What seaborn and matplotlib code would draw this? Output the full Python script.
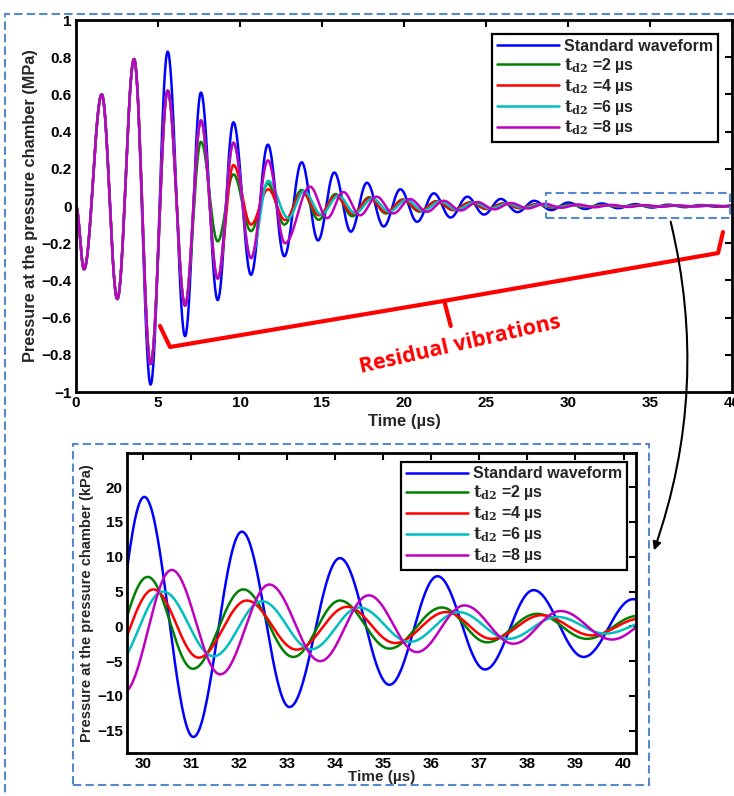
import numpy as np
import pandas as pd
import matplotlib
matplotlib.use("Agg")
import matplotlib.pyplot as plt
import seaborn as sns
from matplotlib.patches import Rectangle, FancyArrowPatch
from matplotlib.lines import Line2D
from matplotlib.ticker import FuncFormatter

# ---------------- data (extrema, time in µs, pressure in MPa) -------------
SERIES = ["std", "td2_2", "td2_4", "td2_6", "td2_8"]
LABELS = ["Standard waveform",
          r"$\mathbf{t}_{\mathbf{d2}}$ =2 µs",
          r"$\mathbf{t}_{\mathbf{d2}}$ =4 µs",
          r"$\mathbf{t}_{\mathbf{d2}}$ =6 µs",
          r"$\mathbf{t}_{\mathbf{d2}}$ =8 µs"]
COLORS = ["#0000ff", "#008000", "#ff0000", "#00bfbf", "#bf00bf"]

STD_T = [0.0, 0.49, 1.57, 2.52, 3.54, 4.55, 5.59, 6.65, 7.62, 8.64, 9.60, 10.67, 11.70, 12.70,
         13.76, 14.76, 15.75, 16.76, 17.74, 18.76, 19.78, 20.80, 21.82, 22.84, 23.86, 24.88,
         25.90, 26.92, 27.94, 28.97, 30.03, 31.05, 32.06, 33.05, 34.10, 35.13, 36.13, 37.12,
         38.13, 39.17, 40.20, 41.20]
STD_V = [0.0, -0.34, 0.60, -0.50, 0.79, -0.96, 0.83, -0.70, 0.61, -0.506, 0.45, -0.37, 0.33, -0.27,
         0.235, -0.185, 0.18, -0.138, 0.125, -0.11, 0.09, -0.085, 0.068, -0.062, 0.05, -0.046,
         0.038, -0.033, 0.028, -0.022, 0.0186, -0.0159, 0.0136, -0.0116, 0.0098, -0.0084, 0.0072,
         -0.0062, 0.0052, -0.0044, 0.0039, -0.0033]

TD2_2_T = [0.0, 0.49, 1.57, 2.52, 3.54, 4.55, 5.59, 6.65, 7.62, 8.64, 9.60, 10.67, 11.70, 12.70,
           13.76, 14.80, 15.82, 16.85, 17.87, 18.90, 19.92, 20.95, 21.97, 23.00, 24.02, 25.03,
           26.05, 27.05, 28.07, 29.05, 30.10, 31.04, 32.09, 33.13, 34.10, 35.13, 36.22, 37.16,
           38.20, 39.24, 40.30, 41.30]
TD2_2_V = [0.0, -0.34, 0.60, -0.50, 0.79, -0.85, 0.62, -0.535, 0.345, -0.19, 0.17, -0.135, 0.12, -0.10,
           0.086, -0.074, 0.064, -0.055, 0.047, -0.040, 0.035, -0.030, 0.026, -0.022, 0.019, -0.016,
           0.014, -0.012, 0.0103, -0.0088, 0.0071, -0.0061, 0.0053, -0.0044, 0.0037, -0.0032, 0.0027,
           -0.0023, 0.0018, -0.0018, 0.0015, -0.0012]

TD2_4_T = [0.0, 0.49, 1.57, 2.52, 3.54, 4.55, 5.59, 6.65, 7.62, 8.64, 9.60, 10.67, 11.72, 12.75,
           13.80, 14.82, 15.85, 16.87, 17.90, 18.92, 19.95, 20.97, 22.00, 23.02, 24.05, 25.07,
           26.10, 27.12, 28.15, 29.15, 30.22, 31.16, 32.16, 33.20, 34.25, 35.25, 36.31, 37.26,
           38.30, 39.34, 40.35, 41.35]
TD2_4_V = [0.0, -0.34, 0.60, -0.50, 0.79, -0.85, 0.62, -0.535, 0.46, -0.39, 0.22, -0.10, 0.09, -0.075,
           0.075, -0.05, 0.055, -0.042, 0.042, -0.034, 0.033, -0.027, 0.025, -0.021, 0.019, -0.016,
           0.0135, -0.011, 0.0095, -0.0075, 0.0053, -0.0045, 0.0037, -0.00335, 0.0028, -0.0024,
           0.00205, -0.0018, 0.0016, -0.0013, 0.0011, -0.0009]

TD2_6_T = [0.0, 0.49, 1.57, 2.52, 3.54, 4.55, 5.59, 6.65, 7.62, 8.64, 9.60, 10.67, 11.72, 12.95,
           13.90, 14.95, 16.00, 17.02, 18.08, 19.10, 20.15, 21.15, 22.20, 23.22, 24.25, 25.27,
           26.30, 27.32, 28.35, 29.40, 30.42, 31.47, 32.48, 33.50, 34.50, 35.55, 36.57, 37.60,
           38.62, 39.62, 40.65]
TD2_6_V = [0.0, -0.34, 0.60, -0.50, 0.79, -0.85, 0.62, -0.535, 0.46, -0.39, 0.34, -0.28, 0.135, -0.065,
           0.08, -0.045, 0.055, -0.038, 0.04, -0.03, 0.032, -0.025, 0.024, -0.019, 0.018, -0.014,
           0.013, -0.010, 0.0085, -0.0058, 0.0050, -0.0043, 0.0036, -0.0033, 0.0027, -0.00225,
           0.00205, -0.0018, 0.00135, -0.00105, 0.0009]

TD2_8_T = [0.0, 0.49, 1.57, 2.52, 3.54, 4.55, 5.59, 6.65, 7.62, 8.64, 9.60, 10.67, 11.70, 12.74,
           14.27, 15.32, 16.30, 17.32, 18.33, 19.35, 20.37, 21.40, 22.42, 23.45, 24.47, 25.50,
           26.52, 27.55, 28.57, 29.60, 30.60, 31.61, 32.63, 33.69, 34.70, 35.70, 36.69, 37.71,
           38.69, 39.76, 40.75]
TD2_8_V = [0.0, -0.34, 0.60, -0.50, 0.79, -0.85, 0.62, -0.535, 0.46, -0.39, 0.34, -0.28, 0.245, -0.20,
           0.104, -0.065, 0.075, -0.05, 0.05, -0.04, 0.037, -0.031, 0.028, -0.024, 0.021, -0.018,
           0.016, -0.013, 0.0115, -0.0095, 0.0081, -0.0069, 0.0060, -0.0050, 0.00445, -0.0037,
           0.0030, -0.0025, 0.0022, -0.0019, 0.0016]

EXTREMA = {"std": (STD_T, STD_V), "td2_2": (TD2_2_T, TD2_2_V), "td2_4": (TD2_4_T, TD2_4_V),
           "td2_6": (TD2_6_T, TD2_6_V), "td2_8": (TD2_8_T, TD2_8_V)}

TOP_XTICKS = list(range(0, 41, 5))
TOP_YTICKS = [-1, -0.8, -0.6, -0.4, -0.2, 0, 0.2, 0.4, 0.6, 0.8, 1]
BOT_XTICKS = list(range(30, 41))
BOT_YTICKS = [-15, -10, -5, 0, 5, 10, 15, 20]


def smooth_trace(t_ext, v_ext, n=40):
    """Render a wave passing through the read extrema with half-cosine strokes."""
    ts, vs = [], []
    for i in range(len(t_ext) - 1):
        s = np.linspace(0, 1, n, endpoint=False)
        ts.append(t_ext[i] + (t_ext[i + 1] - t_ext[i]) * s)
        vs.append(v_ext[i] + (v_ext[i + 1] - v_ext[i]) * (1 - np.cos(np.pi * s)) / 2)
    ts.append([t_ext[-1]])
    vs.append([v_ext[-1]])
    return np.concatenate(ts), np.concatenate(vs)


frames = []
for key in SERIES:
    t, v = smooth_trace(*EXTREMA[key])
    frames.append(pd.DataFrame({"time": t, "pressure": v, "series": key}))
df = pd.concat(frames, ignore_index=True)

# ---------------- style ----------------
sns.set_style("white")
plt.rcParams["font.family"] = ["Liberation Sans", "DejaVu Sans"]
plt.rcParams["font.weight"] = "bold"
plt.rcParams["axes.labelweight"] = "bold"
plt.rcParams["mathtext.fontset"] = "dejavuserif"

W, H = 734, 796
fig = plt.figure(figsize=(W / 100, H / 100), dpi=100)


def fig_box(x0, y0, x1, y1):
    return [x0 / W, 1 - y1 / H, (x1 - x0) / W, (y1 - y0) / H]


def px(x, y):
    return (x / W, 1 - y / H)


ax1 = fig.add_axes(fig_box(76, 20, 732, 392))
ax2 = fig.add_axes(fig_box(127, 453, 636, 753))

palette = dict(zip(SERIES, COLORS))

sns.lineplot(data=df, x="time", y="pressure", hue="series", hue_order=SERIES, palette=palette,
             estimator=None, sort=False, linewidth=1.8, legend=False, ax=ax1)

df2 = df[(df["time"] >= 29.0) & (df["time"] <= 41.0)].copy()
df2["pressure_kpa"] = df2["pressure"] * 1000.0
sns.lineplot(data=df2, x="time", y="pressure_kpa", hue="series", hue_order=SERIES, palette=palette,
             estimator=None, sort=False, linewidth=1.8, legend=False, ax=ax2)

minus_fmt = FuncFormatter(lambda v, p: ("%g" % round(v, 2)).replace("-", "\u2212"))

for ax in (ax1, ax2):
    for sp in ax.spines.values():
        sp.set_linewidth(2)
        sp.set_color("black")
    ax.tick_params(direction="in", top=True, right=True, length=5, width=1.5,
                   labelsize=11, colors="black", pad=3)

ax1.set_xlim(0, 40)
ax1.set_ylim(-1, 1)
ax1.set_xticks(TOP_XTICKS)
ax1.set_yticks(TOP_YTICKS)
ax1.yaxis.set_major_formatter(minus_fmt)
ax1.set_xlabel("Time (µs)", fontsize=12, labelpad=3)
ax1.set_ylabel("Pressure at the pressure chamber (MPa)", fontsize=11.8, labelpad=3)

ax2.set_xlim(29.67, 40.26)
ax2.set_ylim(-18.2, 24.9)
ax2.set_xticks(BOT_XTICKS)
ax2.set_yticks(BOT_YTICKS)
ax2.yaxis.set_major_formatter(minus_fmt)
ax2.set_xlabel("Time (µs)", fontsize=11, labelpad=-1)
ax2.set_ylabel("Pressure at the pressure chamber (kPa)", fontsize=10.5, labelpad=2)

handles = [Line2D([0], [0], color=c, lw=1.8) for c in COLORS]
for ax, anchor in ((ax1, (0.9787, 0.9624)), (ax2, (0.9817, 0.971))):
    leg = ax.legend(handles, LABELS, loc="upper right", bbox_to_anchor=anchor, borderaxespad=0,
                    frameon=True, fancybox=False, edgecolor="black", framealpha=1,
                    fontsize=11.5, handlelength=3.9, handletextpad=0.3, labelspacing=0.12,
                    borderpad=0.3)
    leg.get_frame().set_linewidth(1.6)

# ---------------- annotations ----------------
BOX_BLUE = "#5588cc"
# zoom box in the top panel
ax1.add_patch(Rectangle((28.66, -0.067), 40 - 28.66 - 0.1, 0.0715 + 0.067, fill=False,
                        ls=(0, (4, 2)), ec=BOX_BLUE, lw=1.5, clip_on=False, zorder=6))

# red brace
brace_x = [5.12, 5.73, 22.45, 39.15, 39.45]
brace_y = [-0.645, -0.758, -0.51, -0.253, -0.14]
ax1.plot(brace_x, brace_y, color="red", lw=3, clip_on=False, solid_joinstyle="round", zorder=6)
ax1.plot([22.45, 22.85], [-0.51, -0.645], color="red", lw=3, clip_on=False,
         solid_capstyle="round", zorder=6)
ax1.text(23.41, -0.745, "Residual vibrations", color="red", fontsize=15.5, fontweight="bold",
         family=["Open Sans", "DejaVu Sans"], rotation=12.8, rotation_mode="anchor",
         ha="center", va="center", zorder=6)

# dashed frames
fig.add_artist(Rectangle(px(5, 800), (738 - 5) / W, (800 - 14) / H, transform=fig.transFigure,
                         fill=False, ls=(0, (4, 2)), ec=BOX_BLUE, lw=1.5))
fig.add_artist(Rectangle(px(72.7, 785), (649 - 72.7) / W, (785 - 444) / H, transform=fig.transFigure,
                         fill=False, ls=(0, (4, 2)), ec=BOX_BLUE, lw=1.5))

# connecting arrow
fig.add_artist(FancyArrowPatch(px(670, 219), px(653, 553), transform=fig.transFigure,
                               connectionstyle="arc3,rad=-0.15", arrowstyle="-|>",
                               mutation_scale=12, color="black", lw=1.5))

fig.savefig("out.png", dpi=100)
